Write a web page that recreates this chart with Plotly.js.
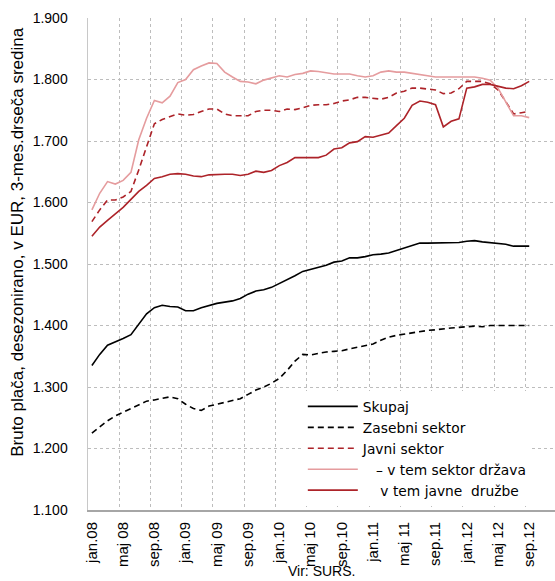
<!DOCTYPE html>
<html>
<head>
<meta charset="utf-8">
<script src="https://cdn.plot.ly/plotly-3.0.1.min.js"></script>
<style>
html,body{margin:0;padding:0;background:#fff;overflow:hidden;}
#chart{width:555px;height:581px;}
</style>
</head>
<body>
<div id="chart"></div>
<script>
// Category axis: months jan.08 .. dec.12
const months = [
  "jan.08","feb.08","mar.08","apr.08","maj 08","jun.08","jul.08","avg.08","sep.08","okt.08","nov.08","dec.08",
  "jan.09","feb.09","mar.09","apr.09","maj 09","jun.09","jul.09","avg.09","sep.09","okt.09","nov.09","dec.09",
  "jan.10","feb.10","mar.10","apr.10","maj 10","jun.10","jul.10","avg.10","sep.10","okt.10","nov.10","dec.10",
  "jan.11","feb.11","mar.11","apr.11","maj 11","jun.11","jul.11","avg.11","sep.11","okt.11","nov.11","dec.11",
  "jan.12","feb.12","mar.12","apr.12","maj 12","jun.12","jul.12","avg.12","sep.12","okt.12","nov.12","dec.12"
];

// Series (EUR)
const skupaj = [1335,1353,1368,1373,1379,1385,1403,1419,1429,1433,1431,1430,
  1424,1424,1429,1433,1436,1438,1440,1444,1451,1456,1458,1462,
  1468,1474,1481,1488,1491,1495,1498,1503,1505,1510,1510,1512,
  1515,1516,1518,1522,1526,1530,1534,1534,1534,1534,1535,1535,
  1537,1538,1536,1535,1533,1532,1529,1529,1529];

const zasebni = [1225,1235,1245,1253,1259,1266,1272,1277,1279,1282,1284,1281,
  1272,1265,1262,1269,1272,1276,1278,1281,1288,1295,1300,1306,
  1314,1327,1342,1353,1352,1355,1357,1358,1359,1362,1365,1368,
  1370,1376,1381,1384,1386,1389,1391,1392,1393,1395,1396,1397,
  1398,1399,1398,1400,1400,1400,1400,1400,1400];

const javni = [1569,1588,1604,1604,1609,1618,1653,1691,1728,1735,1740,1744,
  1742,1743,1748,1752,1752,1744,1741,1741,1741,1748,1750,1750,
  1748,1752,1751,1754,1758,1759,1759,1761,1765,1767,1771,1771,
  1770,1768,1771,1778,1781,1786,1786,1785,1783,1777,1778,1785,
  1797,1797,1797,1793,1783,1764,1744,1746,1748];

const drzava = [1588,1615,1634,1630,1636,1649,1702,1737,1766,1762,1773,1795,
  1800,1816,1822,1827,1826,1812,1804,1797,1796,1793,1799,1803,
  1806,1804,1808,1810,1814,1813,1811,1809,1809,1809,1806,1804,
  1806,1812,1814,1812,1812,1810,1808,1805,1804,1804,1804,1804,
  1804,1804,1802,1799,1786,1764,1741,1741,1738];

const druzbe = [1545,1560,1571,1582,1592,1605,1618,1628,1639,1642,1646,1647,
  1646,1643,1642,1645,1646,1646,1646,1644,1646,1651,1649,1652,
  1660,1665,1673,1673,1673,1673,1677,1687,1689,1697,1699,1707,
  1706,1710,1713,1725,1737,1758,1765,1763,1759,1723,1732,1736,
  1786,1788,1792,1792,1789,1786,1785,1790,1797];

const seriesNames = [
  "Skupaj",
  "Zasebni sektor",
  "Javni sektor",
  "\u00a0\u00a0\u00a0\u2013 v tem sektor država",
  "\u00a0\u00a0\u00a0\u00a0v tem javne\u00a0 družbe"
];

const yTitle = "Bruto plača, desezonirano, v EUR, 3-mes.drseča sredina";
const sourceText = "Vir: SURS.";

const xs = months.slice(0, skupaj.length);
const red = "#ad2329";
const pink = "#e59c9e";

const traces = [
  {x: xs, y: skupaj, name: seriesNames[0], mode: "lines", line: {color: "#000000", width: 1.6}},
  {x: xs, y: zasebni, name: seriesNames[1], mode: "lines", line: {color: "#000000", width: 1.6, dash: "6px,4px"}},
  {x: xs, y: javni, name: seriesNames[2], mode: "lines", line: {color: red, width: 1.6, dash: "6px,4px"}},
  {x: xs, y: drzava, name: seriesNames[3], mode: "lines", line: {color: pink, width: 1.6}},
  {x: xs, y: druzbe, name: seriesNames[4], mode: "lines", line: {color: red, width: 1.6}}
];

const layout = {
  width: 555,
  height: 581,
  margin: {l: 88, r: 0, t: 18, b: 71, pad: 0},
  paper_bgcolor: "#ffffff",
  plot_bgcolor: "#ffffff",
  separators: ",.",
  font: {family: "Liberation Sans, Arial, sans-serif", size: 14, color: "#000000"},
  showlegend: true,
  legend: {
    x: 0.46, xanchor: "left",
    y: 0.242, yanchor: "top",
    bgcolor: "#ffffff",
    borderwidth: 0,
    font: {family: "DejaVu Sans, Liberation Sans, sans-serif", size: 13.8, color: "#000000"},
    itemwidth: 50,
    tracegroupgap: 0
  },
  xaxis: {
    type: "category",
    categoryorder: "array",
    categoryarray: months,
    range: [-0.5, 59.3],
    tickson: "boundaries",
    tick0: 0,
    dtick: 4,
    tickangle: -90,
    tickfont: {size: 15},
    ticks: "",
    ticklabelstandoff: 4,
    showgrid: true,
    griddash: "dot",
    gridcolor: "#bdbdbd",
    gridwidth: 1,
    showline: true,
    linecolor: "#a6a6a6",
    linewidth: 2,
    zeroline: false,
    fixedrange: true
  },
  yaxis: {
    range: [1100, 1900],
    tick0: 1100,
    dtick: 100,
    tickformat: ",d",
    ticks: "",
    ticklabelstandoff: 16,
    tickfont: {size: 14},
    showgrid: true,
    griddash: "dot",
    gridcolor: "#bdbdbd",
    gridwidth: 1,
    showline: true,
    linecolor: "#c8c8c8",
    linewidth: 1.5,
    zeroline: false,
    fixedrange: true
  },
  annotations: [
    {
      text: yTitle, xref: "paper", yref: "paper",
      x: -0.15, y: 0.545, xanchor: "center", yanchor: "middle",
      textangle: -90, showarrow: false, font: {size: 17, color: "#000000"}
    },
    {
      text: sourceText, xref: "paper", yref: "paper",
      x: 0.50, y: -0.104, xanchor: "center", yanchor: "top",
      showarrow: false, font: {size: 14, color: "#000000"}
    }
  ]
};

Plotly.newPlot("chart", traces, layout, {displayModeBar: false, staticPlot: true});
</script>
</body>
</html>
